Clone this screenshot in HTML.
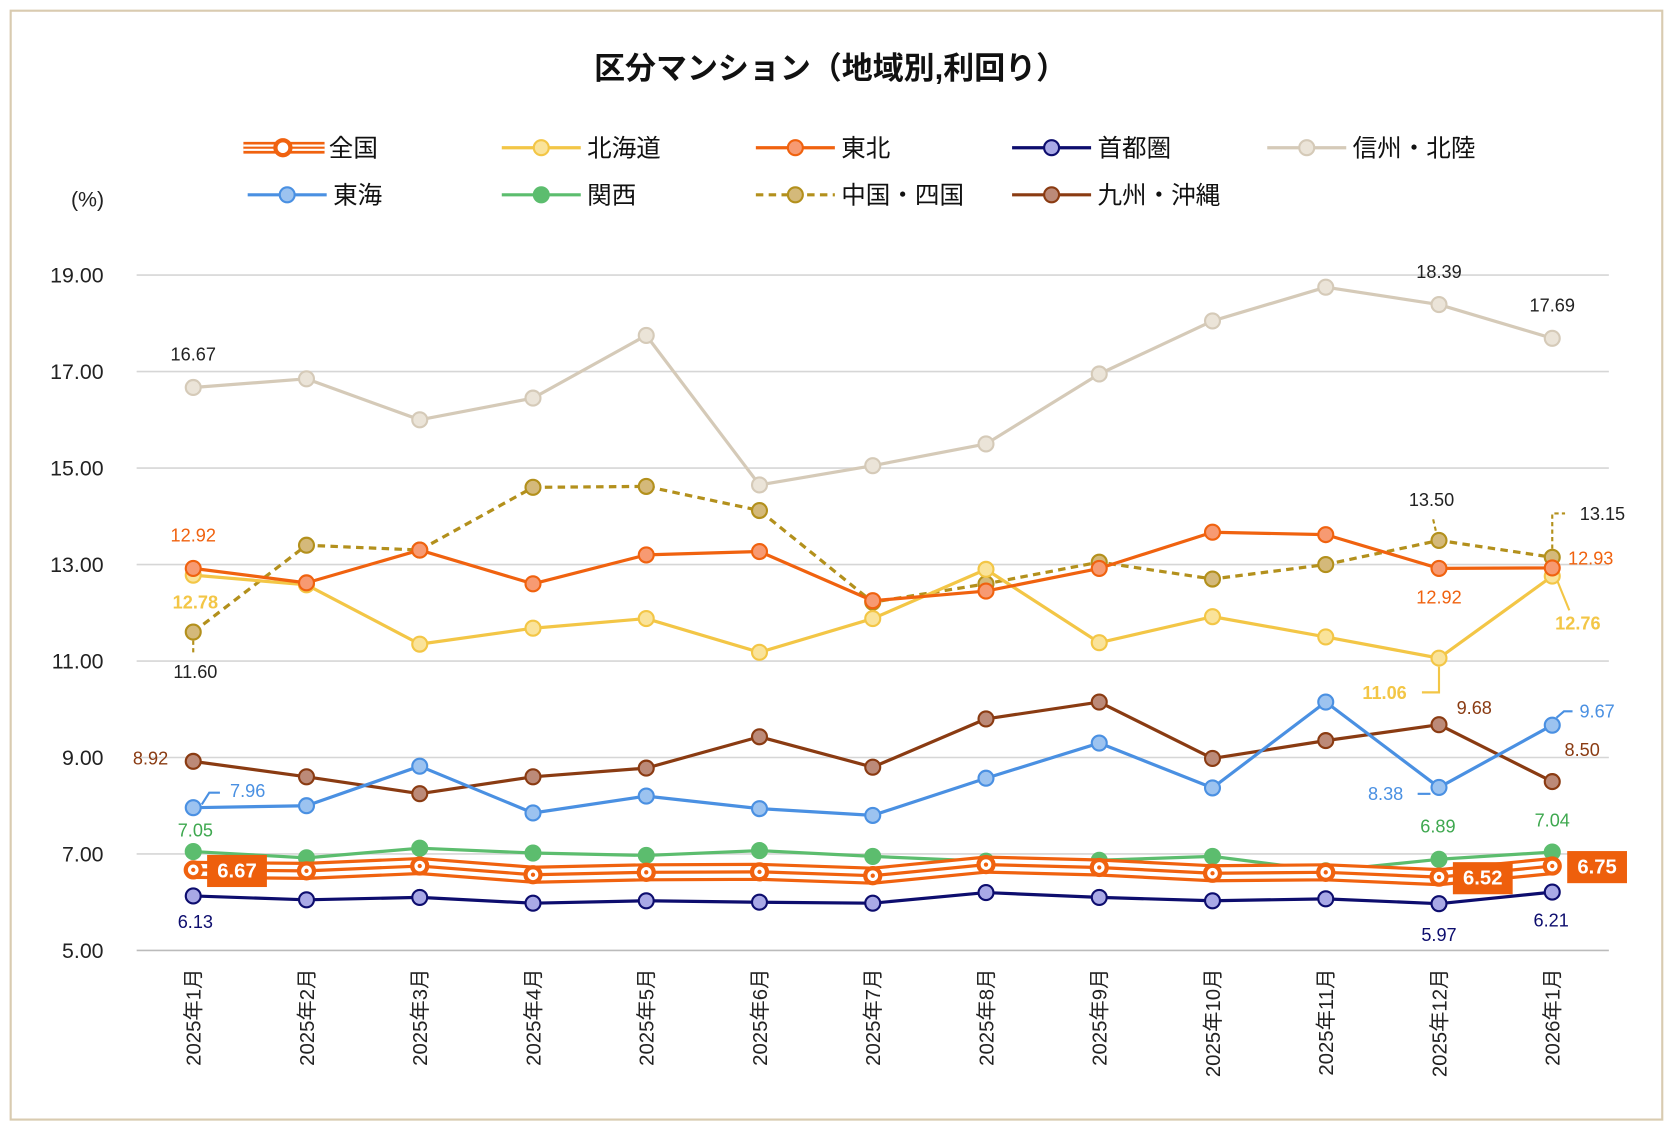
<!DOCTYPE html>
<html><head><meta charset="utf-8"><style>
html,body{margin:0;padding:0;background:#fff;}
svg{display:block;font-family:"Liberation Sans","Noto Sans CJK JP",sans-serif;}
</style></head><body>
<svg id="chart" width="1674" height="1126" viewBox="0 0 1568 1052" preserveAspectRatio="none" xmlns="http://www.w3.org/2000/svg">
<rect x="10" y="10" width="1547" height="1036" fill="#fff" stroke="#d9cbb0" stroke-width="2"/>
<text x="778" y="74" text-anchor="middle" font-size="29" font-weight="bold" fill="#111">区分マンション（地域別,利回り）</text>
<text x="82" y="193" text-anchor="middle" font-size="20" fill="#222">(%)</text>
<g id="grid"></g><g id="series"></g><g id="labels"></g><g id="legend"></g>
</svg>
<script>
const categories=["2025年1月","2025年2月","2025年3月","2025年4月","2025年5月","2025年6月","2025年7月","2025年8月","2025年9月","2025年10月","2025年11月","2025年12月","2026年1月"];
const yTicks=[5,7,9,11,13,15,17,19];
const names=["全国","北海道","東北","首都圏","信州・北陸","東海","関西","中国・四国","九州・沖縄"];
const zenkoku=[6.67,6.65,6.75,6.57,6.62,6.63,6.55,6.78,6.72,6.60,6.62,6.52,6.75];
const hokkaido=[12.78,12.58,11.35,11.68,11.88,11.18,11.88,12.90,11.38,11.92,11.50,11.06,12.76];
const tohoku=[12.92,12.62,13.30,12.60,13.20,13.27,12.25,12.45,12.92,13.67,13.62,12.92,12.93];
const shutoken=[6.13,6.05,6.10,5.98,6.03,6.00,5.98,6.20,6.10,6.03,6.07,5.97,6.21];
const shinshu=[16.67,16.85,16.00,16.45,17.75,14.65,15.05,15.50,16.95,18.05,18.75,18.39,17.69];
const tokai=[7.96,8.00,8.82,7.85,8.20,7.94,7.80,8.57,9.30,8.37,10.15,8.38,9.67];
const kansai=[7.05,6.92,7.12,7.02,6.97,7.07,6.95,6.85,6.87,6.95,6.65,6.89,7.04];
const chugoku=[11.60,13.40,13.30,14.60,14.62,14.12,12.22,12.60,13.05,12.70,13.00,13.50,13.15];
const kyushu=[8.92,8.60,8.25,8.60,8.78,9.43,8.80,9.80,10.15,8.98,9.35,9.68,8.50];

const NS="http://www.w3.org/2000/svg";
const x=i=>181+i*106.08;
const y=v=>888-(v-5)*45.07;
function mk(tag,attrs,parent){const e=document.createElementNS(NS,tag);for(const k in attrs)e.setAttribute(k,attrs[k]);parent.appendChild(e);return e;}
const grid=document.getElementById('grid'),ser=document.getElementById('series'),lab=document.getElementById('labels'),leg=document.getElementById('legend');

yTicks.forEach(t=>{
 const l=mk('line',{x1:128,x2:1507,y1:y(t),y2:y(t),stroke:t===5?'#bbb':'#d6d6d6','stroke-width':1.5},grid);
 
 
 const tx=mk('text',{x:97,y:y(t)+7,'text-anchor':'end','font-size':20,fill:'#222'},grid);
 tx.textContent=t.toFixed(2);
 
 
});
categories.forEach((c,i)=>{
 const tx=mk('text',{x:0,y:0,'text-anchor':'end','font-size':19,fill:'#222',transform:`translate(${x(i)+7},905) rotate(-90)`},grid);
 tx.textContent=c;
 
 
});

const defs=[
 {key:'shinshu',data:shinshu,color:'#d5cab8',fill:'#ebe4d8',w:3},
 {key:'chugoku',data:chugoku,color:'#b3901c',fill:'#d4b97a',w:3,dash:'7,5'},
 {key:'hokkaido',data:hokkaido,color:'#f3c646',fill:'#fae39a',w:3},
 {key:'tohoku',data:tohoku,color:'#f0620f',fill:'#f79a72',w:3},
 {key:'kyushu',data:kyushu,color:'#8a3b12',fill:'#bc8a78',w:3},
 {key:'tokai',data:tokai,color:'#4a90e2',fill:'#9cc3f0',w:3},
 {key:'kansai',data:kansai,color:'#5cbd6e',fill:'#5cbd6e',w:3},
 {key:'zenkoku',data:zenkoku,color:'#f0620f',fill:'#f0620f',w:3,triple:true},
 {key:'shutoken',data:shutoken,color:'#0d0d6e',fill:'#a9a9e6',w:3},
];
defs.forEach(d=>{
 const pts=d.data.map((v,i)=>x(i)+','+y(v)).join(' ');
 const g=mk('g',{},ser);
 
 
 if(d.triple){
  mk('polyline',{points:pts,fill:'none',stroke:d.color,'stroke-width':17,'stroke-linejoin':'round'},g);
  mk('polyline',{points:pts,fill:'none',stroke:'#fff','stroke-width':11,'stroke-linejoin':'round'},g);
  mk('polyline',{points:pts,fill:'none',stroke:d.color,'stroke-width':3,'stroke-linejoin':'round'},g);
 } else {
  const a={points:pts,fill:'none',stroke:d.color,'stroke-width':d.w,'stroke-linejoin':'round'};
  if(d.dash)a['stroke-dasharray']=d.dash;
  mk('polyline',a,g);
 }
 d.data.forEach((v,i)=>{
  const c=mk('circle',{cx:x(i),cy:y(v),r:7,fill:d.triple?'#fff':d.fill,stroke:d.color,'stroke-width':d.triple?4:2},g);
  
  
  if(d.triple){mk('circle',{cx:x(i),cy:y(v),r:2,fill:d.color},g);}
 });
});

const S={shinshu,tohoku,hokkaido,chugoku,kyushu,tokai,kansai,zenkoku,shutoken};
const labels=[
 ['shinshu',0,0,-31,'#222'],['shinshu',11,0,-31,'#222'],['shinshu',12,0,-31,'#222'],
 ['tohoku',0,0,-31,'#f0620f'],['tohoku',11,0,27,'#f0620f'],['tohoku',12,36,-9,'#f0620f'],
 ['hokkaido',0,2,25,'#f3c646',1],['hokkaido',11,-51,32,'#f3c646',1],['hokkaido',12,24,44,'#f3c646',1],
 ['chugoku',0,2,37,'#222'],['chugoku',11,-7,-38,'#222'],['chugoku',12,47,-41,'#222'],
 ['kyushu',0,-40,-3,'#8a3b12'],['kyushu',11,33,-16,'#8a3b12'],['kyushu',12,28,-30,'#8a3b12'],
 ['tokai',0,51,-16,'#4a90e2'],['tokai',11,-50,6,'#4a90e2'],['tokai',12,42,-13,'#4a90e2'],
 ['kansai',0,2,-20,'#3ea84f'],['kansai',11,-1,-31,'#3ea84f'],['kansai',12,0,-30,'#3ea84f'],
 ['zenkoku',0,41,1,'#fff',1,1],['zenkoku',11,41,1,'#fff',1,1],['zenkoku',12,42,1,'#fff',1,1],
 ['shutoken',0,2,24,'#0d0d6e'],['shutoken',11,0,29,'#0d0d6e'],['shutoken',12,-1,26,'#0d0d6e'],
];
labels.forEach(L=>{
 const [k,i,dx,dy,col,bold,box]=L;const v=S[k][i];
 const cx=x(i)+dx,cy=y(v)+dy;
 if(box){const r=mk('rect',{x:cx-28,y:cy-15,width:56,height:30,fill:'#ee5f0c'},lab);
  
  }
 const t=mk('text',{x:cx,y:cy+6,'text-anchor':'middle','font-size':box?19:17,fill:col,'font-weight':bold?'bold':'normal'},lab);
 t.textContent=v.toFixed(2);
 
 
});
const leaders=[
 ['tokai',0,[[8,-3],[15,-14],[25,-14]],'#4a90e2'],
 ['tokai',11,[[-8,6],[-20,6]],'#4a90e2'],
 ['tokai',12,[[4,-7],[11,-13],[19,-13]],'#4a90e2'],
 ['hokkaido',11,[[0,8],[0,32],[-16,32]],'#f3c646'],
 ['hokkaido',12,[[5,5],[16,32]],'#f3c646'],
 ['chugoku',0,[[0,8],[0,20]],'#b3901c',1],
 ['chugoku',11,[[-3,-9],[-6,-22]],'#b3901c',1],
 ['chugoku',12,[[0,-8],[0,-41],[12,-41]],'#b3901c',1],
];
leaders.forEach(Ld=>{const [k,i,pp,col,dash]=Ld;const px=x(i),py=y(S[k][i]);
 const a={points:pp.map(p=>(px+p[0])+','+(py+p[1])).join(' '),fill:'none',stroke:col,'stroke-width':2};
 if(dash)a['stroke-dasharray']='4,3';
 const l=mk('polyline',a,lab);
 
 
});

const legendItems=[
 ['zenkoku',0,228,138],['hokkaido',1,470,138],['tohoku',2,708,138],['shutoken',3,948,138],['shinshu',4,1187,138],
 ['tokai',5,232,182],['kansai',6,470,182],['chugoku',7,708,182],['kyushu',8,948,182]];
legendItems.forEach(it=>{
 const [k,ni,lx,ly]=it;const d=defs.find(q=>q.key===k);
 const g=mk('g',{},leg);
 
 
 if(d.triple){
  mk('line',{x1:lx,x2:lx+76,y1:ly,y2:ly,stroke:d.color,'stroke-width':11},g);
  mk('line',{x1:lx,x2:lx+76,y1:ly,y2:ly,stroke:'#fff','stroke-width':6},g);
  mk('line',{x1:lx,x2:lx+76,y1:ly,y2:ly,stroke:d.color,'stroke-width':2},g);
 } else {
  const a={x1:lx,x2:lx+74,y1:ly,y2:ly,stroke:d.color,'stroke-width':3};
  if(d.dash)a['stroke-dasharray']='7,5';
  mk('line',a,g);
 }
 mk('circle',{cx:lx+37,cy:ly,r:7,fill:d.triple?'#fff':d.fill,stroke:d.color,'stroke-width':d.triple?4:2},g);
 const t=mk('text',{x:lx+80,y:ly+8,'font-size':23,fill:'#111'},g);
 t.textContent=names[ni];
});
</script>
</body></html>
